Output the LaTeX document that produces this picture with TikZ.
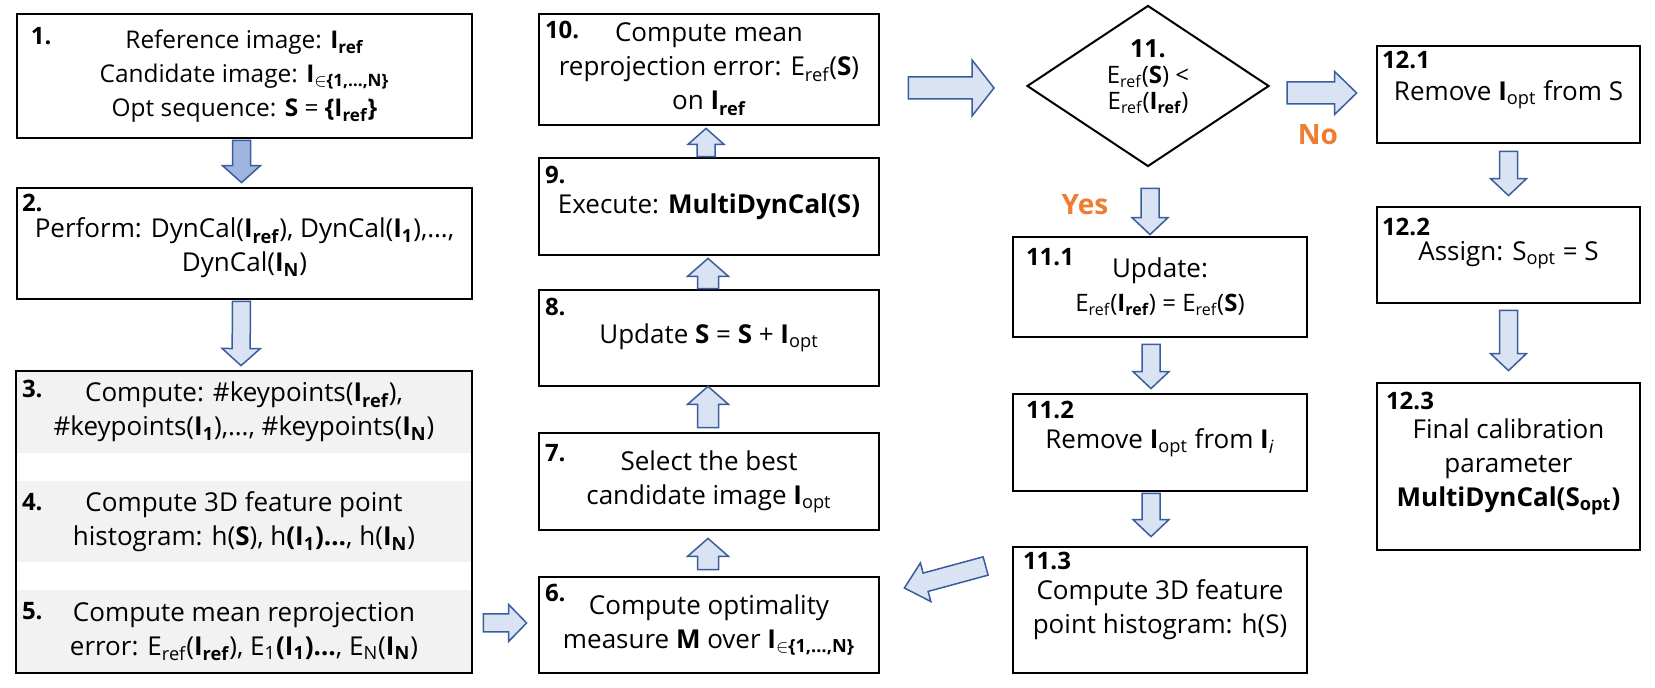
\documentclass[tikz,border=0pt]{standalone}
\usepackage{fontspec}
\setmainfont{Open Sans}
\usetikzlibrary{shapes.geometric,calc}

\definecolor{arrowline}{HTML}{3A5D9C}
\definecolor{arrowfill}{HTML}{DAE3F3}
\definecolor{arrowdark}{HTML}{9EB5E0}
\definecolor{bandgray}{HTML}{F2F2F2}
\definecolor{answer}{HTML}{ED7D31}

\newcommand\sub[1]{\textsubscript{#1}}
\newcommand\bI[1]{\textbf{I\textsubscript{#1}}}

% block arrow: [fill]{tail}{tip}{half shaft}{half head}{head length}
\newcommand\blkarrow[6][arrowfill]{%
	\coordinate (ta) at #2;
	\coordinate (tb) at #3;
	\coordinate (hb) at ($(tb)!#6!(ta)$);
	\draw[line width=0.75pt, draw=arrowline, fill=#1]
		($(ta)!#4!90:(tb)$) -- ($(hb)!#4!90:(tb)$) -- ($(hb)!#5!90:(tb)$) -- (tb)
		-- ($(hb)!#5!-90:(tb)$) -- ($(hb)!#4!-90:(tb)$) -- ($(ta)!#4!-90:(tb)$) -- cycle;
}

\tikzset{
	stepbox/.style={draw, line width=1.4pt, align=center, inner sep=0pt},
	band/.style={fill=bandgray, align=center, inner sep=0pt},
	numlab/.style={anchor=north west, inner sep=0pt, font=\fontsize{12pt}{14pt}\selectfont\bfseries},
	answer/.style={text=answer, font=\fontsize{14pt}{16pt}\selectfont\bfseries, inner sep=0pt}
}

\begin{document}
\begin{tikzpicture}[x=0.5pt, y=-0.5pt, font=\fontsize{13pt}{17pt}\selectfont]
			\useasboundingbox (0,0) rectangle (1655,688);
			
			% left column
			\node[stepbox, minimum width=227.5pt, minimum height=62pt, font=\fontsize{12.2pt}{17pt}\selectfont] (b1) at (244.5,76) {Reference image: \bI{ref}\\ Candidate image: \bI{$\in$\{1,\ldots,N\}}\\ Opt sequence: \textbf{S} = \textbf{\{I\sub{ref}\}}};
			\node[stepbox, minimum width=227.5pt, minimum height=55.5pt] (b2) at (244.5,243.5) {\rule{0pt}{14pt}Perform: DynCal(\bI{ref}), DynCal(\bI{1}),\ldots,\\ DynCal(\bI{N})};
			\node[band, minimum width=228pt, minimum height=41pt] (b3) at (244,412) {Compute: \#keypoints(\bI{ref}),\\ \#keypoints(\bI{1}),\ldots, \#keypoints(\bI{N})};
			\node[band, minimum width=228pt, minimum height=40.5pt] (b4) at (244,521.5) {Compute 3D feature point\\ histogram: h(\textbf{S}), h\textbf{(I\sub{1})\ldots}, h(\bI{N})};
			\node[band, minimum width=228pt, minimum height=41.5pt] (b5) at (244,631.5) {Compute mean reprojection\\ error: E\sub{ref}(\bI{ref}), E\sub{1}\textbf{(I\sub{1})\ldots}, E\sub{N}(\bI{N})};
			\draw[line width=1pt] (b3.north west) rectangle (b5.south east);
			
			% middle column
			\node[stepbox, minimum width=170pt, minimum height=48pt] (b6) at (709,625) {Compute optimality\\ measure \textbf{M} over \bI{$\in$\{1,\ldots,N\}}};
			\node[stepbox, minimum width=170pt, minimum height=48.5pt] (b7) at (709,481.5) {Select the best\\ candidate image \textbf{I}\sub{opt}};
			\node[stepbox, minimum width=170pt, minimum height=48pt] (b8) at (709,338) {Update \textbf{S} = \textbf{S} + \textbf{I}\sub{opt}};
			\node[stepbox, minimum width=170pt, minimum height=48.5pt] (b9) at (709,206.5) {Execute: \textbf{MultiDynCal(S)}};
			\node[stepbox, minimum width=170pt, minimum height=55.5pt] (b10) at (709,69.5) {Compute mean\\ reprojection error: E\sub{ref}(\textbf{S})\\ on \bI{ref}};
			
			% decision and its branches
			\node[draw, diamond, line width=1pt, minimum width=121pt, minimum height=80.5pt, inner sep=0pt] (d11) at (1148,86) {};
			\node[align=center, inner sep=0pt, font=\fontsize{12pt}{13pt}\selectfont] (t11) at ($(d11.center)+(0,-9)$) {{\fontsize{12.5pt}{13pt}\selectfont\textbf{11.}}\\ E\sub{ref}(\textbf{S}) <\\ E\sub{ref}(\bI{ref})};
			\node[stepbox, minimum width=147pt, minimum height=50pt] (b111) at (1160,287) {Update:\\ {\fontsize{12pt}{14pt}\selectfont E\sub{ref}(\bI{ref}) = E\sub{ref}(\textbf{S})}};
			\node[stepbox, minimum width=147pt, minimum height=48.5pt] (b112) at (1160,442.5) {Remove \textbf{I}\sub{opt} from \textbf{I}\sub{\textit{i}}};
			\node[stepbox, minimum width=147pt, minimum height=63pt] (b113) at (1160,610) {Compute 3D feature\\ point histogram: h(S)};
			\node[stepbox, minimum width=131.5pt, minimum height=48.5pt] (b121) at (1508.5,94.5) {Remove \textbf{I}\sub{opt} from S};
			\node[stepbox, minimum width=131.5pt, minimum height=48pt] (b122) at (1508.5,255) {Assign: S\sub{opt} = S};
			\node[stepbox, minimum width=131.5pt, minimum height=83.5pt] (b123) at (1508.5,466.5) {Final calibration\\ parameter\\ \textbf{MultiDynCal(S\sub{opt})}};
			\node[answer] (yes) at (1085,205) {Yes};
			\node[answer] (no) at (1318,135) {No};
			
			% step numbers
			\node[numlab] (n1) at ($(b1.north west)+(15,14)$) {1.};
			\node[numlab] (n2) at ($(b2.north west)+(6,7)$) {2.};
			\node[numlab] (n3) at ($(b3.north west)+(6,9)$) {3.};
			\node[numlab] (n4) at ($(b4.north west)+(6,12)$) {4.};
			\node[numlab] (n5) at ($(b5.north west)+(6,12)$) {5.};
			\node[numlab] (n6) at ($(b6.north west)+(7,8)$) {6.};
			\node[numlab] (n7) at ($(b7.north west)+(7,12)$) {7.};
			\node[numlab] (n8) at ($(b8.north west)+(7,9)$) {8.};
			\node[numlab] (n9) at ($(b9.north west)+(7,9)$) {9.};
			\node[numlab] (n10) at ($(b10.north west)+(7,8)$) {10.};
			\node[numlab] (n111) at ($(b111.north west)+(14,12)$) {11.1};
			\node[numlab] (n112) at ($(b112.north west)+(14,8)$) {11.2};
			\node[numlab] (n113) at ($(b113.north west)+(11,6)$) {11.3};
			\node[numlab] (n121) at ($(b121.north west)+(6,6)$) {12.1};
			\node[numlab] (n122) at ($(b122.north west)+(6,12)$) {12.2};
			\node[numlab] (n123) at ($(b123.north west)+(10,10)$) {12.3};
			
			% block arrows
			\blkarrow[arrowdark]{($(b1.south)+(-3,1)$)}{($(b2.north)+(-3,-4)$)}{4.5pt}{9.5pt}{8.5pt}
			\blkarrow{($(b2.south)+(-3,1)$)}{($(b3.north)+(-3,-5)$)}{4.5pt}{9.5pt}{8.5pt}
			\blkarrow{($(b5.east)+(11,-8.5)$)}{($(b6.west)+(-11,-2)$)}{4.5pt}{9.25pt}{9pt}
			\blkarrow{($(b6.north)+(-1,-6)$)}{($(b7.south)+(-1,7)$)}{5.25pt}{10.25pt}{9pt}
			\blkarrow{($(b7.north)+(-1,-4)$)}{($(b8.south)+(-1,-1)$)}{5.25pt}{10.25pt}{9pt}
			\blkarrow{($(b8.north)+(-1,0)$)}{($(b9.south)+(-1,2)$)}{5.25pt}{10.25pt}{9pt}
			\blkarrow{($(b9.north)+(-3,0)$)}{($(b10.south)+(-3,2)$)}{4.5pt}{9pt}{8pt}
			\blkarrow{($(b10.east)+(28,18.5)$)}{($(d11.west)+(-32,2)$)}{5.5pt}{14pt}{11pt}
			\blkarrow{($(d11.south)+(2,21)$)}{($(b111.north)+(-10,-1)$)}{4.5pt}{9pt}{8.5pt}
			\blkarrow{($(b111.south)+(-9,6)$)}{($(b112.north)+(-9,-4)$)}{4.5pt}{9pt}{8.5pt}
			\blkarrow{($(b112.south)+(-9,1)$)}{($(b113.north)+(-9,-9)$)}{4.5pt}{9pt}{8.5pt}
			\blkarrow{($(b113.west)+(-26,-44)$)}{($(b6.east)+(24,-37)$)}{4.75pt}{10pt}{11pt}
			\blkarrow{($(d11.east)+(17,7)$)}{($(b121.west)+(-19,-1.5)$)}{5.5pt}{10.75pt}{11pt}
			\blkarrow{($(b121.south)+(0,7)$)}{($(b122.north)+(0,-10)$)}{4.5pt}{9pt}{8.5pt}
			\blkarrow{($(b122.south)+(0,6)$)}{($(b123.north)+(0,-11)$)}{4.5pt}{9pt}{8.5pt}
		\end{tikzpicture}
\end{document}
